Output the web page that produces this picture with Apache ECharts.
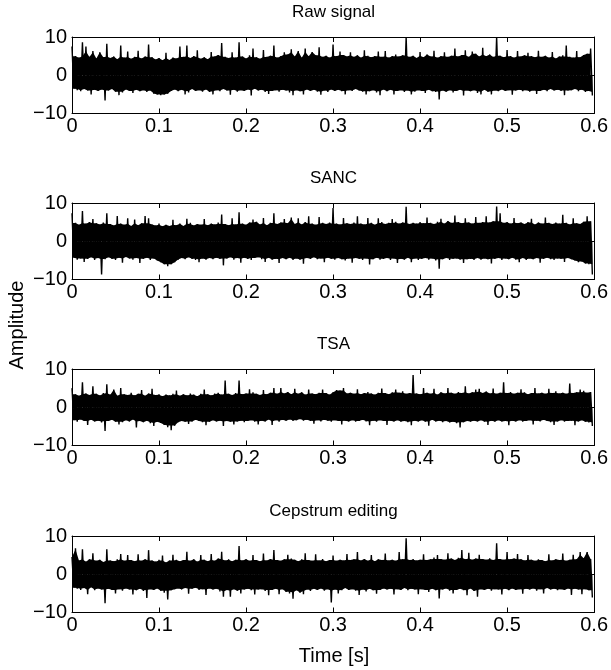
<!DOCTYPE html>
<html><head><meta charset="utf-8">
<script src="https://cdn.jsdelivr.net/npm/echarts@6/dist/echarts.min.js"></script>
<style>html,body{margin:0;padding:0;background:#fff}#c{width:611px;height:670px}</style>
</head><body><div id="c"></div>
<script>
// ---------- data ----------
const panelTitles = ['Raw signal', 'SANC', 'TSA', 'Cepstrum editing'];
const xLabel = 'Time [s]';
const yLabel = 'Amplitude';
const timeMin = 0, timeMax = 0.6, timeTick = 0.1;
const ampMin = -10, ampMax = 10, ampTick = 10;
const sampleStep = 0.004; // seconds between envelope samples (upper at t, lower at t + step/2)

// Raw signal: peak (upper) and trough (lower) values per sample
const rawUpper = [
 7.5,5.0,4.6,8.6,7.5,4.8,6.3,4.4,6.0,4.7, 8.2,4.5,4.9,4.2,7.8,4.6,6.2,4.3,4.8,6.4,
 4.4,4.9,8.0,4.7,4.1,4.5,3.9,5.9,4.0,4.6, 4.4,7.5,4.8,7.8,4.5,5.0,6.5,4.3,4.7,4.2,
 6.1,4.9,5.3,8.4,4.8,4.5,6.0,4.6,8.6,4.9, 4.4,5.2,7.0,4.7,4.3,6.6,4.8,5.1,7.8,4.6,
 5.0,6.0,5.4,6.8,4.9,6.3,4.6,7.0,5.0,6.1, 5.2,7.3,4.8,5.1,4.6,8.0,5.0,6.2,5.3,4.9,
 6.0,4.8,5.2,4.6,6.5,5.1,4.7,5.0,6.2,4.8, 6.3,4.6,5.0,5.4,4.9,5.2,10.0,4.8,5.1,4.5,
 6.1,4.7,5.4,4.9,6.4,4.6,5.0,6.0,4.8,5.1, 7.0,4.9,5.3,6.5,4.8,6.2,5.6,4.9,7.2,5.0,
 5.4,4.8,10.0,5.1,4.7,6.6,5.0,4.6,6.3,4.9, 5.2,5.9,5.0,4.7,6.4,4.8,5.1,4.6,6.1,4.4,
 4.9,5.2,7.8,4.8,4.6,6.3,4.7,5.3,5.6,7.0
];
const rawLower = [
 -3.5,-3.9,-4.2,-3.6,-4.0,-5.0,-3.8,-4.1,-3.7,-6.6, -4.0,-3.6,-4.3,-5.2,-4.5,-3.7,-4.1,-4.6,-3.8,-4.2,
 -3.9,-4.4,-4.0,-4.8,-5.0,-5.2,-5.0,-4.8,-4.1,-3.7, -4.2,-3.8,-5.0,-4.5,-3.6,-4.1,-3.9,-4.3,-3.7,-4.4,
 -5.0,-3.9,-4.2,-3.6,-4.0,-5.1,-3.8,-4.3,-3.9,-4.1, -3.7,-5.3,-3.5,-4.0,-3.8,-4.4,-4.9,-4.1,-3.9,-4.3,
 -3.8,-4.0,-4.5,-5.2,-3.9,-4.2,-5.0,-3.7,-4.1,-3.8, -4.3,-5.1,-4.0,-4.4,-3.7,-4.1,-3.8,-4.2,-5.0,-3.9,
 -4.1,-3.6,-4.0,-4.3,-5.0,-4.2,-3.9,-4.5,-5.2,-3.7, -4.2,-3.8,-5.0,-4.1,-3.9,-4.4,-4.0,-5.0,-4.3,-3.9,
 -4.1,-4.6,-3.8,-4.2,-4.4,-6.3,-4.0,-4.3,-3.9,-4.5, -4.1,-3.8,-5.3,-4.0,-4.2,-3.9,-4.6,-5.0,-3.8,-4.3,
 -5.0,-4.0,-4.2,-3.7,-4.1,-3.9,-5.1,-4.0,-3.8,-4.2, -3.9,-4.3,-4.0,-4.9,-4.1,-3.8,-4.2,-3.6,-4.0,-3.8,
 -4.1,-5.2,-4.0,-3.9,-3.6,-4.2,-3.8,-4.4,-4.1,-5.3
];

// SANC
const sancUpper = [
 7.3,4.8,4.3,7.9,4.6,5.0,5.8,4.7,4.4,4.9, 7.3,4.5,4.1,6.6,4.6,4.3,6.0,4.0,5.7,4.2,
 4.7,6.6,6.0,4.4,4.1,4.6,3.9,4.3,4.0,5.6, 4.2,4.6,4.0,5.9,4.8,4.1,4.5,4.3,5.8,4.2,
 4.6,4.4,4.9,7.0,4.5,4.2,6.0,4.4,7.6,4.6, 4.3,4.9,5.7,5.1,4.4,6.1,4.2,4.8,7.3,4.5,
 4.9,5.8,4.7,6.2,4.5,6.0,4.4,5.0,6.5,4.6, 4.3,6.3,4.8,4.5,4.9,8.7,4.6,4.4,6.1,4.7,
 4.5,4.9,6.5,4.6,4.4,6.1,4.8,4.3,6.0,5.0, 4.5,4.8,5.8,5.1,4.6,4.9,9.0,4.5,4.8,4.6,
 5.0,4.7,6.2,4.8,4.5,5.1,5.9,4.6,5.3,4.8, 6.7,5.0,4.7,6.0,4.9,4.6,6.3,4.8,5.0,6.5,
 4.9,5.2,9.1,7.3,4.8,5.0,4.6,6.1,4.7,4.9, 4.5,5.0,5.9,4.4,4.9,4.6,6.2,4.8,4.5,4.9,
 4.6,6.9,4.8,4.4,6.0,4.7,4.5,5.1,6.5,5.2
];
const sancLower = [
 -4.3,-4.8,-4.5,-5.4,-4.6,-4.2,-4.9,-4.4,-8.7,-4.7, -4.2,-4.6,-4.9,-4.3,-5.6,-4.1,-4.5,-4.8,-4.4,-5.7,
 -4.6,-4.3,-4.9,-4.5,-5.0,-5.5,-6.0,-6.5,-6.0,-5.5, -4.8,-4.4,-4.7,-4.2,-4.6,-4.9,-5.5,-4.5,-4.8,-4.4,
 -4.7,-4.3,-4.6,-6.3,-4.5,-4.2,-4.8,-4.4,-5.6,-4.3, -4.6,-4.9,-4.4,-4.2,-4.7,-5.4,-4.3,-4.8,-4.6,-5.7,
 -4.4,-4.7,-4.3,-4.9,-4.5,-4.8,-5.9,-4.4,-4.6,-4.2, -4.7,-4.5,-5.5,-4.3,-4.6,-4.8,-4.4,-4.7,-5.0,-4.5,
 -5.6,-4.4,-4.6,-4.9,-4.5,-6.1,-4.7,-4.3,-4.8,-4.6, -4.4,-4.9,-4.5,-5.7,-4.6,-4.8,-4.3,-5.5,-4.5,-4.9,
 -4.6,-4.4,-4.8,-4.5,-5.0,-7.2,-4.7,-4.4,-4.9,-4.6, -4.5,-4.8,-5.7,-4.7,-4.6,-4.9,-4.4,-4.8,-4.5,-4.7,
 -5.8,-4.6,-4.4,-4.9,-4.5,-4.7,-4.3,-4.8,-5.5,-4.4, -4.9,-4.5,-4.7,-4.4,-5.6,-4.6,-4.3,-4.7,-4.9,-4.5,
 -4.6,-5.4,-4.4,-4.7,-5.0,-5.5,-5.3,-5.8,-6.0,-8.7
];

// TSA
const tsaUpper = [
 5.0,3.4,3.0,6.5,3.6,3.2,5.5,3.5,3.1,3.7, 6.0,3.3,4.6,3.0,5.0,3.4,3.2,3.8,3.1,3.5,
 4.5,3.0,3.6,4.8,3.2,3.4,2.9,3.3,3.1,3.5, 4.4,3.0,3.4,3.1,3.6,3.3,2.9,3.5,4.6,3.4,
 3.1,3.6,3.8,3.3,7.0,3.5,3.2,3.7,7.0,3.4, 3.6,4.7,3.9,3.5,3.2,4.5,3.4,3.8,5.0,3.5,
 5.0,3.6,4.0,3.4,4.8,3.5,3.9,3.3,4.6,3.6, 3.4,3.8,4.6,3.7,3.3,3.9,4.5,4.4,5.0,3.6,
 3.8,3.5,4.7,3.4,3.7,4.0,3.6,3.3,3.8,4.9, 3.7,3.4,3.9,4.6,3.8,4.2,3.5,3.7,8.4,3.6,
 3.4,5.0,3.8,3.5,4.8,3.3,3.9,3.6,5.0,3.8, 3.5,4.0,3.7,5.5,3.6,3.9,4.6,4.8,3.7,4.1,
 3.6,4.9,3.5,3.8,6.5,3.7,4.0,3.5,3.8,4.7, 3.9,3.4,3.7,5.0,3.6,3.8,3.5,4.8,3.7,4.2,
 3.6,3.8,3.5,6.2,3.7,3.9,4.6,4.3,3.8,4.0
];
const tsaLower = [
 -3.4,-3.8,-3.2,-3.6,-4.6,-3.3,-3.7,-3.5,-4.0,-6.2, -3.6,-3.3,-3.8,-4.5,-3.9,-3.4,-3.7,-3.2,-5.3,-3.6,
 -3.9,-3.5,-4.2,-4.9,-3.8,-4.1,-4.6,-5.2,-6.0,-4.8, -3.9,-3.6,-3.8,-4.4,-3.7,-3.3,-3.6,-3.9,-4.7,-3.8,
 -3.4,-3.7,-3.5,-4.9,-3.6,-3.8,-4.5,-3.7,-3.5,-3.9, -3.6,-3.4,-3.8,-4.5,-3.5,-3.7,-3.2,-4.6,-3.4,-3.8,
 -3.3,-3.5,-3.2,-3.6,-3.4,-3.1,-3.5,-3.3,-3.6,-4.3, -3.4,-3.7,-3.3,-3.5,-3.8,-3.4,-3.6,-4.5,-3.5,-3.7,
 -3.4,-3.8,-3.6,-3.3,-3.7,-4.7,-3.5,-3.8,-3.4,-3.6, -4.6,-3.5,-3.7,-3.4,-3.8,-3.6,-3.9,-4.7,-3.5,-3.7,
 -3.4,-3.8,-4.8,-3.3,-3.7,-3.5,-3.9,-3.6,-4.0,-3.8, -4.2,-5.3,-3.9,-3.6,-3.8,-3.5,-3.7,-3.4,-3.8,-4.6,
 -3.5,-3.8,-3.4,-3.7,-3.6,-4.7,-3.5,-3.7,-3.4,-3.8, -3.6,-3.4,-4.5,-3.5,-3.7,-3.3,-3.6,-3.9,-4.6,-3.7,
 -3.4,-3.8,-3.6,-3.5,-4.7,-3.7,-3.4,-3.8,-4.0,-4.9
];

// Cepstrum editing
const cepUpper = [
 4.5,6.8,3.6,6.5,3.3,3.9,5.5,3.5,3.8,3.2, 6.5,3.6,3.4,3.9,5.3,3.5,5.0,3.7,3.4,5.2,
 3.5,3.9,6.3,3.6,3.3,3.8,4.9,3.1,3.6,5.1, 3.8,3.4,3.7,5.9,3.5,3.9,3.3,5.0,3.8,3.4,
 5.3,3.5,4.1,5.9,3.6,3.9,3.4,3.8,7.4,3.6, 3.9,3.5,5.0,3.7,3.4,5.4,3.6,4.0,6.3,3.7,
 3.5,3.9,5.1,4.1,3.8,3.4,3.9,5.5,3.7,3.5, 5.2,3.6,4.0,3.4,3.7,4.9,3.5,3.8,3.6,5.3,
 3.7,3.9,5.8,3.6,4.0,3.5,5.0,3.4,3.9,3.7, 5.4,3.6,3.8,3.5,5.8,3.9,9.4,3.7,4.0,3.6,
 3.8,5.2,3.7,3.9,4.4,5.0,4.0,3.8,5.5,4.1, 3.7,4.3,6.3,3.9,5.6,3.8,4.1,5.1,4.0,3.8,
 4.2,3.7,8.1,4.0,3.8,5.8,3.9,4.1,5.3,3.9, 3.6,5.0,3.8,3.5,3.9,3.7,3.4,5.2,3.6,3.9,
 3.7,5.4,3.5,3.8,5.1,3.9,5.8,4.2,5.8,4.0
];
const cepLower = [
 -3.5,-3.8,-4.1,-3.6,-5.2,-3.4,-4.2,-3.7,-4.0,-7.6, -3.8,-4.1,-5.0,-3.9,-4.3,-3.7,-4.0,-5.3,-4.2,-3.8,
 -4.4,-6.2,-3.9,-4.1,-3.7,-4.3,-4.8,-6.6,-4.2,-3.9, -3.7,-4.0,-3.6,-5.1,-3.8,-3.5,-4.1,-3.9,-5.4,-3.7,
 -4.0,-3.8,-4.5,-5.9,-4.1,-5.9,-3.9,-4.3,-5.0,-4.0, -3.8,-4.2,-5.3,-4.0,-3.9,-4.4,-5.5,-4.1,-3.8,-5.2,
 -3.9,-4.6,-5.0,-6.4,-4.2,-4.8,-5.2,-4.0,-4.4,-3.8, -4.1,-3.7,-4.3,-3.9,-7.4,-4.0,-5.0,-4.2,-3.6,-4.1,
 -3.9,-4.3,-5.4,-4.0,-4.5,-3.8,-4.2,-5.1,-4.1,-3.7, -4.0,-3.8,-5.3,-3.9,-4.1,-3.6,-4.2,-3.8,-4.0,-5.2,
 -3.9,-4.1,-4.6,-3.8,-4.2,-6.3,-4.0,-3.7,-4.3,-5.0, -4.1,-3.8,-4.2,-5.5,-3.7,-4.4,-5.9,-3.9,-4.1,-3.8,
 -4.3,-3.9,-4.0,-5.3,-3.8,-4.2,-3.7,-4.1,-3.9,-5.1, -3.8,-4.0,-3.7,-4.3,-3.9,-5.0,-3.6,-4.0,-3.8,-4.2,
 -3.9,-4.1,-3.7,-5.4,-3.8,-4.0,-5.2,-3.9,-4.2,-6.1
];

const panelUpper = [rawUpper, sancUpper, tsaUpper, cepUpper];
const panelLower = [rawLower, sancLower, tsaLower, cepLower];

// ---------- chart ----------
const FONT = '"Liberation Sans", Arial, Helvetica, sans-serif';
const gridTops = [37, 203, 369, 536];
const gridH = 76.5, gridL = 72, gridW = 523;

function tOf(i, half) { return +((i + (half ? 0.5 : 0)) * sampleStep).toFixed(4); }

// alternating peak / trough trace
function signal(up, lo) {
  const d = [];
  for (let i = 0; i < up.length; i++) {
    d.push([tOf(i, false), up[i]]);
    d.push([tOf(i, true), lo[i]]);
  }
  return d;
}
// solid body of the trace (spikes are left to the thin trace), filled to zero
function core(arr, half, isUpper) {
  return arr.map((v, i) => {
    const w = arr.slice(Math.max(0, i - 2), Math.min(arr.length, i + 3)).sort((p, q) => p - q);
    const med = w[Math.floor(w.length / 2)];
    const c = isUpper ? Math.min(v, med) : Math.max(v, med);
    return [tOf(i, half), c];
  });
}

const grids = [], xAxes = [], yAxes = [], series = [], titles = [];
const axisLine = { show: true, onZero: false, lineStyle: { color: '#000', width: 1 } };
const tick = { show: true, inside: true, length: 5, lineStyle: { color: '#000', width: 1 } };

panelTitles.forEach((name, g) => {
  grids.push({ left: gridL, top: gridTops[g], width: gridW, height: gridH, show: false });
  xAxes.push({
    gridIndex: g, type: 'value', min: timeMin, max: timeMax, interval: timeTick, position: 'bottom',
    axisLine, axisTick: tick, splitLine: { show: false },
    axisLabel: { color: '#000', fontFamily: FONT, fontSize: 20, margin: 3,
      formatter: v => String(Math.round(v * 10) / 10) }
  });
  xAxes.push({
    gridIndex: g, type: 'value', min: timeMin, max: timeMax, interval: timeTick, position: 'top',
    axisLine, axisTick: tick, splitLine: { show: false }, axisLabel: { show: false }
  });
  yAxes.push({
    gridIndex: g, type: 'value', min: ampMin, max: ampMax, interval: ampTick, position: 'left',
    axisLine, axisTick: tick, splitLine: { show: false },
    axisLabel: { color: '#000', fontFamily: FONT, fontSize: 20, margin: 5,
      formatter: v => (v < 0 ? '\u2212' + Math.abs(v) : String(v)) }
  });
  yAxes.push({
    gridIndex: g, type: 'value', min: ampMin, max: ampMax, interval: ampTick, position: 'right',
    axisLine, axisTick: tick, splitLine: { show: false }, axisLabel: { show: false }
  });
  const up = panelUpper[g], lo = panelLower[g];
  const fillStyle = { color: '#000', opacity: 1, origin: 0 };
  series.push({
    type: 'line', xAxisIndex: 2 * g, yAxisIndex: 2 * g, data: core(up, false, true),
    showSymbol: false, symbol: 'none', lineStyle: { width: 0 }, areaStyle: fillStyle, silent: true, z: 1
  });
  series.push({
    type: 'line', xAxisIndex: 2 * g, yAxisIndex: 2 * g, data: core(lo, true, false),
    showSymbol: false, symbol: 'none', lineStyle: { width: 0 }, areaStyle: fillStyle, silent: true, z: 1
  });
  series.push({
    type: 'line', xAxisIndex: 2 * g, yAxisIndex: 2 * g, data: signal(up, lo),
    showSymbol: false, symbol: 'none', sampling: null,
    lineStyle: { color: '#000', width: 1.4 }, silent: true, z: 2
  });
  titles.push({
    text: name, left: gridL + gridW / 2, top: gridTops[g] - 33, textAlign: 'center', padding: 0,
    textStyle: { color: '#000', fontFamily: FONT, fontSize: 17, fontWeight: 'normal' }
  });
});

const chart = echarts.init(document.getElementById('c'), null, { renderer: 'canvas' });
chart.setOption({
  animation: false,
  backgroundColor: '#fff',
  title: titles,
  grid: grids,
  xAxis: xAxes,
  yAxis: yAxes,
  series,
  graphic: [
    { type: 'text', x: 334, y: 656,
      style: { text: xLabel, fill: '#000', font: '20px ' + FONT, align: 'center', verticalAlign: 'middle' } },
    { type: 'text', x: 17, y: 325, rotation: Math.PI / 2,
      style: { text: yLabel, fill: '#000', font: '20px ' + FONT, align: 'center', verticalAlign: 'middle' } }
  ]
});
</script></body></html>
